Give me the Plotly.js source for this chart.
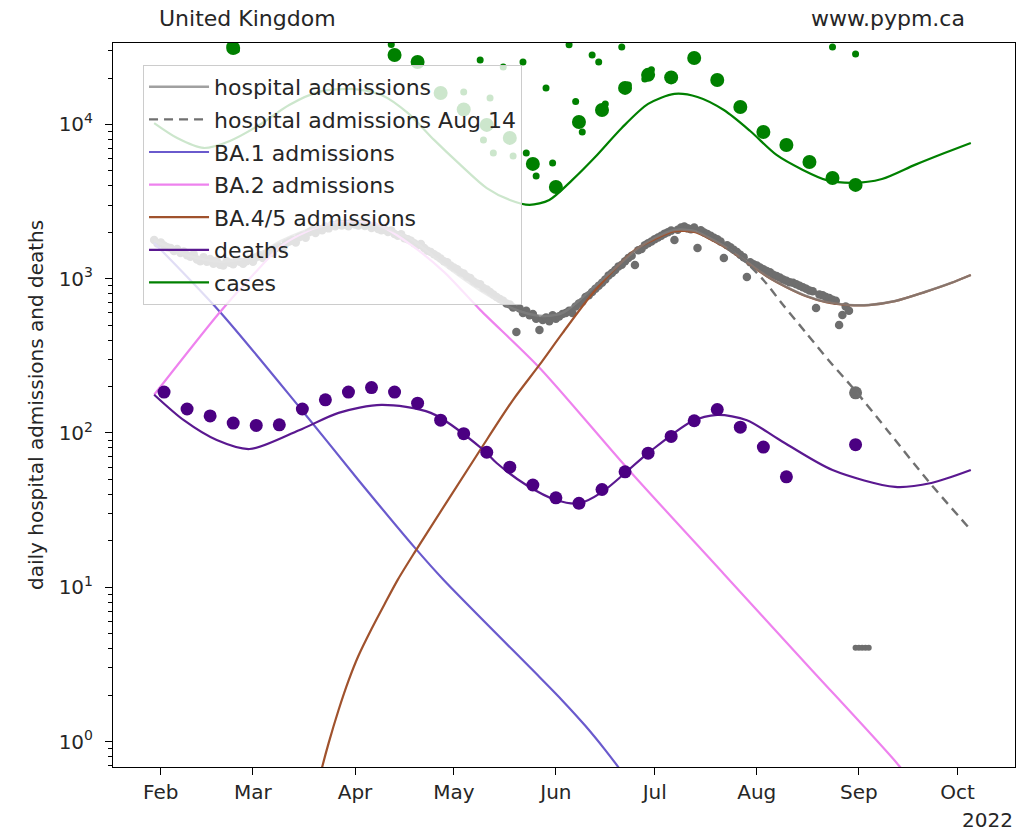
<!DOCTYPE html>
<html><head><meta charset="utf-8">
<script src="https://cdn.plot.ly/plotly-3.0.1.min.js"></script>
<style>html,body{margin:0;padding:0;background:#fff}</style>
</head><body><div id="chart" style="width:1033px;height:835px"></div>
<script>
// ---------- data ----------
const hospStart = '2022-01-30';
const hospDaily = [
 1780,1690,1720,1640,1600,1580,1510,
 1560,1470,1500,1420,1390,1440,1330,
 1300,1380,1290,1340,1250,1310,1230,
 1220,1300,1270,1240,1310,1290,1250,
 1300,1340,1290,1380,1420,1360,1450,
 1500,1470,1580,1620,1560,1700,1740,
 1780,1720,1860,1900,1840,2000,2060,
 1980,2100,2060,2180,2120,2240,2190,
 2300,2210,2280,2190,2330,2250,2210,
 2290,2200,2240,2130,2180,2100,2060,
 2080,2010,2050,1950,1900,1940,1830,
 1800,1760,1700,1650,1680,1580,1520,
 1490,1440,1400,1350,1300,1280,1220,
 1180,1150,1100,1080,1030,1010,960,
 930,920,870,850,820,790,760,
 740,720,690,680,650,452,640,
 600,620,580,590,550,465,540,
 560,530,580,550,570,590,600,
 620,600,660,690,710,760,780,
 820,860,900,940,990,1050,1090,
 1140,1200,1230,1300,1360,1410,1228,
 1530,1560,1650,1700,1740,1800,1850,
 1900,1960,2000,2050,1784,2080,2150,
 2180,2120,2090,2150,1581,2060,1990,
 1950,1900,1840,1800,1740,1362,1650,
 1600,1540,1490,1430,1380,1026,1280,
 1240,1220,1180,1150,1120,1100,1060,
 1040,1020,990,970,950,940,920,
 900,880,860,840,830,646,790,
 780,760,750,730,720,501,582,
 660,620
];
const hospLowDates = ['2022-08-31','2022-09-01','2022-09-02','2022-09-03','2022-09-04'];
const hospLow = [4.05,4.05,4.05,4.05,4.05];
const hospWeeklyDates = ['2022-08-31'];
const hospWeekly = [182];

const hospModelDates = ['2022-01-30','2022-02-09','2022-02-19','2022-03-01','2022-03-10','2022-03-20','2022-03-29','2022-04-08','2022-04-18','2022-04-28','2022-05-09','2022-05-19','2022-05-27','2022-06-03','2022-06-13','2022-06-26','2022-07-01','2022-07-07','2022-07-13','2022-07-17','2022-07-23','2022-07-29','2022-08-04','2022-08-10','2022-08-16','2022-08-22','2022-08-29','2022-09-04','2022-09-12','2022-09-21','2022-09-29','2022-10-05'];
const hospModel = [1780,1420,1290,1395,1780,2150,2300,2200,1800,1230,840,640,575,600,900,1581,1837,2070,2040,1866,1581,1283,1042,885,773,707,676,676,717,820,939,1057];

const hospAug14Dates = ['2022-07-23','2022-07-29','2022-08-03','2022-08-09','2022-08-16','2022-08-23','2022-08-31','2022-09-10','2022-09-22','2022-10-05'];
const hospAug14 = [1581,1260,982,676,445,293,187,102,49,23.5];

const ba1Dates = ['2022-01-30','2022-02-19','2022-03-15','2022-04-02','2022-04-19','2022-04-28','2022-05-27','2022-06-03','2022-06-10','2022-06-16','2022-06-20','2022-06-25'];
const ba1 = [1706,609,148,49.6,18.2,11.1,2.62,1.84,1.26,0.88,0.68,0.48];

const ba2Dates = ['2022-01-30','2022-02-19','2022-03-01','2022-03-10','2022-03-20','2022-03-29','2022-04-08','2022-04-18','2022-04-28','2022-05-09','2022-05-27','2022-06-23','2022-07-22','2022-08-16','2022-09-13','2022-09-20'];
const ba2 = [177,609,1058,1655,2134,2334,2233,1656,1107,628,265,58,12.2,3.18,0.705,0.45];

const ba45Dates = ['2022-03-20','2022-03-22','2022-03-24','2022-03-27','2022-03-30','2022-04-02','2022-04-06','2022-04-10','2022-04-14','2022-04-19','2022-05-09','2022-05-19','2022-05-27','2022-06-03','2022-06-13','2022-06-25','2022-07-01','2022-07-07','2022-07-13','2022-07-17','2022-07-23','2022-07-29','2022-08-04','2022-08-10','2022-08-16','2022-08-22','2022-08-29','2022-09-04','2022-09-12','2022-09-21','2022-09-29','2022-10-05'];
const ba45 = [0.45,0.68,0.98,1.6,2.47,3.58,5.36,7.79,11.2,16.7,77.6,164,276,444,845,1535,1800,2030,2010,1845,1568,1275,1037,881,770,705,675,675,716,819,938,1056];

const deathsModelDates = ['2022-01-30','2022-02-08','2022-02-18','2022-02-28','2022-03-15','2022-03-27','2022-04-09','2022-04-24','2022-05-10','2022-05-14','2022-05-23','2022-06-01','2022-06-08','2022-06-15','2022-06-29','2022-07-12','2022-07-20','2022-07-29','2022-08-08','2022-08-24','2022-09-12','2022-09-23','2022-10-05'];
const deathsModel = [177,121,90,78.7,104,135,152,135,77.6,63.9,46,36.8,35,41.4,74.1,118,131,121,90,57.5,44.7,47.4,57.5];

const deathsDates = ['2022-02-02','2022-02-09','2022-02-16','2022-02-23','2022-03-02','2022-03-09','2022-03-16','2022-03-23','2022-03-30','2022-04-06','2022-04-13','2022-04-20','2022-04-27','2022-05-04','2022-05-11','2022-05-18','2022-05-25','2022-06-01','2022-06-08','2022-06-15','2022-06-22','2022-06-29','2022-07-06','2022-07-13','2022-07-20','2022-07-27','2022-08-03','2022-08-10','2022-08-31'];
const deaths = [184,143,129,116,112,113,143,164,184,197,184,156,121,99,75,60,46,38,35,43,56,74,95,120,142,109,81,52,84];

const casesModelDates = ['2022-01-30','2022-02-06','2022-02-14','2022-02-22','2022-03-03','2022-03-12','2022-03-21','2022-03-31','2022-04-09','2022-04-17','2022-04-25','2022-05-03','2022-05-11','2022-05-18','2022-05-24','2022-05-30','2022-06-06','2022-06-13','2022-06-21','2022-06-29','2022-07-07','2022-07-14','2022-07-22','2022-07-30','2022-08-07','2022-08-15','2022-08-22','2022-08-30','2022-09-08','2022-09-18','2022-09-27','2022-10-05'];
const casesModel = [10210,8170,7040,7820,9930,13370,16250,17000,15530,11880,7940,5470,3870,3240,3010,3240,4370,6170,9490,13590,15780,15070,12400,9070,6340,5070,4370,4180,4430,5470,6530,7590];

const casesWeeklyDates = ['2022-02-23','2022-04-13','2022-04-20','2022-04-27','2022-05-04','2022-05-11','2022-05-18','2022-05-25','2022-06-01','2022-06-08','2022-06-15','2022-06-22','2022-06-29','2022-07-06','2022-07-13','2022-07-20','2022-07-27','2022-08-03','2022-08-10','2022-08-17','2022-08-24','2022-08-31'];
const casesWeekly = [31300,28200,25400,16000,12500,9930,8180,5550,3935,10380,12400,17250,20960,20180,26980,19420,12970,8940,7360,5710,4500,4055];

const casesDailyDates = ['2022-02-22','2022-02-24','2022-04-12','2022-05-04','2022-05-09','2022-05-10','2022-05-12','2022-05-13','2022-05-16','2022-05-19','2022-05-22','2022-05-23','2022-05-26','2022-05-29','2022-05-31','2022-06-05','2022-06-07','2022-06-09','2022-06-12','2022-06-14','2022-06-16','2022-06-21','2022-06-23','2022-06-28','2022-06-30','2022-08-24','2022-08-31'];
const casesDaily = [32300,30400,33000,16250,26200,7940,14860,6530,23600,6250,25400,6530,4630,17250,5620,32800,14100,8940,28200,25400,13590,31800,18030,19720,22600,31800,28650];

const yTickVals = [1,10,100,1000,10000];
const yTickText = ['10<sup>0</sup>','10<sup>1</sup>','10<sup>2</sup>','10<sup>3</sup>','10<sup>4</sup>'];

// ---------- build ----------
function addDays(s,n){const d=new Date(s+'T00:00:00Z');d.setUTCDate(d.getUTCDate()+n);return d.toISOString().slice(0,10);}
const hospDates = hospDaily.map((_,i)=>addDays(hospStart,i));
const minorVals=[];
for(let e=-1;e<=4;e++){for(let k=2;k<=9;k++){minorVals.push(k*Math.pow(10,e));}}

const C = {gray:'#6e6e6e', ba1:'#6a5acd', ba2:'#ee82ee', ba45:'#a0522d', deaths:'#4b0082', deathsLine:'#5a1890', cases:'#008000'};
const sp = {shape:'spline', smoothing:0.8};

const traces = [
 {x:hospDates, y:hospDaily, type:'scatter', mode:'markers', marker:{color:C.gray,size:8.5}, showlegend:false},
 {x:hospLowDates, y:hospLow, type:'scatter', mode:'markers', marker:{color:C.gray,size:6}, showlegend:false},
 {x:hospWeeklyDates, y:hospWeekly, type:'scatter', mode:'markers', marker:{color:C.gray,size:13}, showlegend:false},
 {x:ba1Dates, y:ba1, type:'scatter', mode:'lines', name:'BA.1 admissions', line:Object.assign({color:C.ba1,width:2.2},sp), legendgroup:'g3', legendrank:3},
 {x:ba2Dates, y:ba2, type:'scatter', mode:'lines', name:'BA.2 admissions', line:Object.assign({color:C.ba2,width:2.2},sp), legendgroup:'g4', legendrank:4},
 {x:ba45Dates, y:ba45, type:'scatter', mode:'lines', name:'BA.4/5 admissions', line:Object.assign({color:C.ba45,width:2.2},sp), legendgroup:'g5', legendrank:5},
 {x:hospModelDates, y:hospModel, type:'scatter', mode:'lines', name:'hospital admissions', line:Object.assign({color:'#808080',width:2.4},sp), opacity:0.75, legendgroup:'g1', legendrank:1},
 {x:hospAug14Dates, y:hospAug14, type:'scatter', mode:'lines', name:'hospital admissions Aug 14', line:Object.assign({color:'#707070',width:2.4,dash:'9px,6px'},sp), legendgroup:'g2', legendrank:2},
 {x:deathsModelDates, y:deathsModel, type:'scatter', mode:'lines', name:'deaths', line:Object.assign({color:C.deathsLine,width:2.2},sp), legendgroup:'g6', legendrank:6},
 {x:deathsDates, y:deaths, type:'scatter', mode:'markers', marker:{color:C.deaths,size:13}, showlegend:false},
 {x:casesModelDates, y:casesModel, type:'scatter', mode:'lines', name:'cases', line:Object.assign({color:C.cases,width:2.2},sp), legendgroup:'g7', legendrank:7},
 {x:casesWeeklyDates, y:casesWeekly, type:'scatter', mode:'markers', marker:{color:C.cases,size:14}, showlegend:false},
 {x:casesDailyDates, y:casesDaily, type:'scatter', mode:'markers', marker:{color:C.cases,size:7}, showlegend:false}
];

const layout = {
 width:1033, height:835,
 margin:{l:113,r:18,t:43,b:68},
 paper_bgcolor:'#fff', plot_bgcolor:'#fff',
 font:{family:'DejaVu Sans', size:20, color:'#262626'},
 hovermode:false,
 legend:{x:0.0333, y:0.9696, xanchor:'left', yanchor:'top', bgcolor:'rgba(255,255,255,0.8)', bordercolor:'#cccccc', borderwidth:1, font:{size:22, color:'#262626'}, itemwidth:60, tracegroupgap:1, traceorder:'grouped'},
 xaxis:{type:'date', range:['2022-01-17 12:00','2022-10-18 10:00'], tickmode:'linear', tick0:'2022-02-01', dtick:'M1', tickformat:'%b', ticks:'outside', ticklen:7, tickcolor:'#000', tickwidth:1, showline:true, linecolor:'#000', linewidth:1, mirror:true, showgrid:false, zeroline:false, tickfont:{size:20}},
 yaxis:{type:'log', range:[-0.1653,4.528], tickmode:'array', tickvals:yTickVals, ticktext:yTickText, ticks:'outside', ticklen:7, tickcolor:'#000', tickwidth:1, showline:true, linecolor:'#000', linewidth:1, mirror:true, showgrid:false, zeroline:false, tickfont:{size:20}, ticklabelstandoff:8,
   minor:{tickmode:'array', tickvals:minorVals, ticks:'outside', ticklen:4, tickcolor:'#000', tickwidth:1, showgrid:false}},
 annotations:[
  {text:'United Kingdom', xref:'paper', yref:'paper', x:0.0488, y:1.0345, xanchor:'left', yanchor:'middle', showarrow:false, font:{size:22}},
  {text:'www.pypm.ca', xref:'paper', yref:'paper', x:0.9468, y:1.0345, xanchor:'right', yanchor:'middle', showarrow:false, font:{size:22}},
  {text:'2022', xref:'paper', yref:'paper', x:1.0, y:-0.073, xanchor:'right', yanchor:'middle', showarrow:false, font:{size:20}},
  {text:'daily hospital admissions and deaths', xref:'paper', yref:'paper', x:-0.0854, y:0.5, xanchor:'center', yanchor:'middle', textangle:-90, showarrow:false, font:{size:20}}
 ]
};
Plotly.newPlot('chart', traces, layout, {displayModeBar:false, staticPlot:true});
</script>
</body></html>
